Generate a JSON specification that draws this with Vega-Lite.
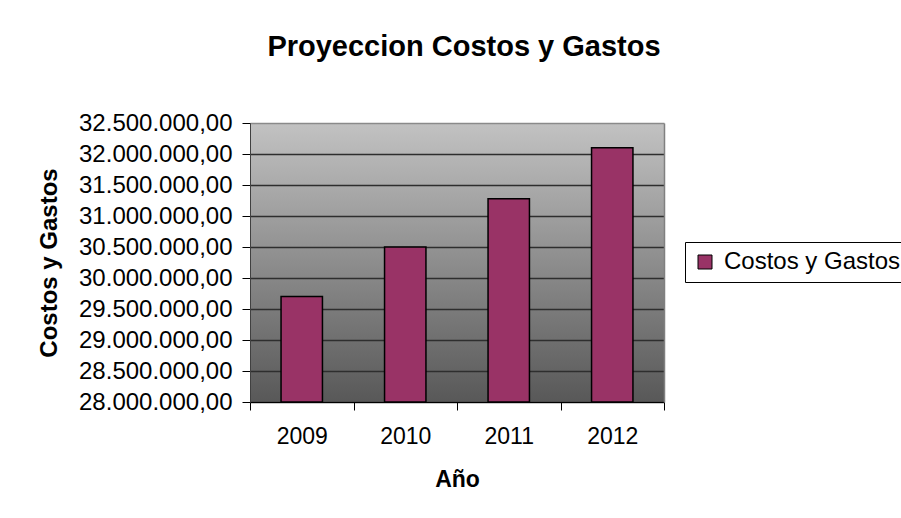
{
  "$schema": "https://vega.github.io/schema/vega-lite/v6.json",
  "autosize": "none",
  "padding": {"left": 250, "top": 123, "right": 237, "bottom": 116},
  "width": 414,
  "height": 279,
  "background": "white",
  "title": {
    "text": "Proyeccion Costos y Gastos",
    "font": "Liberation Sans",
    "fontSize": 29,
    "fontWeight": "bold",
    "color": "black",
    "anchor": "middle",
    "frame": "group",
    "baseline": "alphabetic",
    "offset": 26,
    "dx": 7
  },
  "data": {
    "values": [
      {"anio": "2009", "valor": 29700000, "serie": "Costos y Gastos"},
      {"anio": "2010", "valor": 30500000, "serie": "Costos y Gastos"},
      {"anio": "2011", "valor": 31280000, "serie": "Costos y Gastos"},
      {"anio": "2012", "valor": 32100000, "serie": "Costos y Gastos"}
    ]
  },
  "encoding": {
    "x": {
      "field": "anio",
      "type": "ordinal",
      "scale": {"paddingInner": 0, "paddingOuter": 0},
      "axis": {
        "title": "Año",
        "labelAngle": 0,
        "tickBand": "extent",
        "tickSize": 8,
        "labelPadding": 15,
        "labelFontSize": 23,
        "titleFontSize": 23,
        "titlePadding": 20,
        "grid": false
      }
    }
  },
  "layer": [
    {
      "mark": {"type": "bar", "width": {"band": 0.4}, "stroke": "black", "strokeWidth": 1.5},
      "encoding": {
        "y": {
          "field": "valor",
          "type": "quantitative",
          "scale": {"domain": [28000000, 32500000], "nice": false, "zero": false},
          "axis": {
            "title": "Costos y Gastos",
            "values": [28000000, 28500000, 29000000, 29500000, 30000000, 30500000, 31000000, 31500000, 32000000, 32500000],
            "format": ",.2f",
            "tickSize": 8,
            "labelPadding": 10,
            "labelFontSize": 24,
            "titleFontSize": 24,
            "titlePadding": 17,
            "domainColor": "#404040",
            "grid": true,
            "gridColor": {"condition": {"test": "datum.value == 32500000", "value": "#8a8a8a"}, "value": "#2e2e2e"},
            "gridWidth": 1.3,
            "gridOpacity": 1
          }
        },
        "y2": {"datum": 28000000},
        "color": {
          "field": "serie",
          "type": "nominal",
          "scale": {"range": ["#993366"]},
          "legend": {
            "title": null,
            "orient": "none",
            "legendX": 435,
            "legendY": 119,
            "symbolType": "square",
            "symbolSize": 196,
            "symbolStrokeColor": "black",
            "symbolStrokeWidth": 1,
            "symbolOpacity": 1,
            "labelFontSize": 24,
            "labelLimit": 400,
            "labelOffset": 7,
            "padding": 8,
            "strokeColor": "black",
            "fillColor": "white"
          }
        }
      }
    },
    {
      "mark": {"type": "bar", "width": {"band": 0.4}, "opacity": 0},
      "encoding": {
        "y": {
          "field": "valor",
          "type": "quantitative",
          "scale": {"domain": [28000000, 32500000], "nice": false, "zero": false},
          "axis": {
            "orient": "right",
            "title": null,
            "labels": false,
            "ticks": false,
            "grid": false,
            "domainColor": "#808080",
            "domainWidth": 1.5
          }
        },
        "y2": {"datum": 28000000}
      }
    }
  ],
  "resolve": {"axis": {"y": "independent"}},
  "config": {
    "locale": {"number": {"decimal": ",", "thousands": ".", "grouping": [3], "currency": ["", "€"]}},
    "font": "Liberation Sans",
    "view": {
      "stroke": null,
      "fill": {
        "gradient": "linear",
        "x1": 0, "y1": 0, "x2": 0, "y2": 1,
        "stops": [
          {"offset": 0, "color": "#c2c2c2"},
          {"offset": 1, "color": "#585858"}
        ]
      }
    },
    "axis": {
      "labelFont": "Liberation Sans",
      "titleFont": "Liberation Sans",
      "labelColor": "black",
      "titleColor": "black",
      "titleFontWeight": "bold",
      "domainColor": "black",
      "domainWidth": 1,
      "tickColor": "black",
      "tickWidth": 1
    },
    "legend": {
      "labelFont": "Liberation Sans",
      "labelColor": "black"
    }
  }
}
